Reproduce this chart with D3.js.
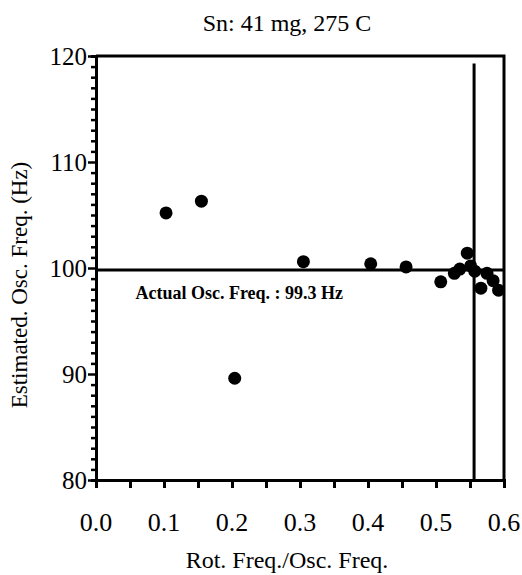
<!DOCTYPE html>
<html><head><meta charset="utf-8">
<script src="https://cdn.jsdelivr.net/npm/d3@7"></script>
<style>body{margin:0;background:#fff}svg{display:block}text{font-family:"Liberation Serif","Times New Roman",serif;fill:#000}</style>
</head><body><svg id="c" width="522" height="575"></svg>
<script>
const ratio = [0.103,0.155,0.204,0.305,0.404,0.456,0.507,0.527,0.535,0.546,0.551,0.557,0.566,0.575,0.584,0.592];
const estFreq = [105.2,106.3,89.6,100.6,100.4,100.1,98.7,99.5,99.9,101.4,100.2,99.7,98.1,99.5,98.8,97.9];
const xTicks = [0.0,0.1,0.2,0.3,0.4,0.5,0.6];
const yTicks = [80,90,100,110,120];
const actualLine = 99.8;
const actualLabel = "Actual Osc. Freq. : 99.3 Hz";
const limitRatio = 0.556;
const title = "Sn: 41 mg, 275 C";
const xTitle = "Rot. Freq./Osc. Freq.";
const yTitle = "Estimated. Osc. Freq. (Hz)";

const svg = d3.select("#c");
const L=96,R=504,T=56,B=480;
const x = d3.scaleLinear().domain([0,0.6]).range([L,R]);
const y = d3.scaleLinear().domain([80,120]).range([B,T]);

// frame top/right
svg.append("path").attr("d",`M${L},${T}H${R}V${B}`).attr("fill","none").attr("stroke","#000").attr("stroke-width",3);

// x axis
const xa = svg.append("g").attr("transform",`translate(0,${B})`)
  .call(d3.axisBottom(x).tickValues(d3.range(0,0.601,0.05)).tickSize(8).tickFormat(""));
xa.select(".domain").attr("stroke-width",3);
xa.selectAll(".tick line").attr("stroke-width",3);
svg.append("g").selectAll("text").data(xTicks).join("text")
  .attr("x",d=>x(d)).attr("y",B+51).attr("text-anchor","middle").attr("font-size",26)
  .text(d=>d.toFixed(1));

// y axis
const ya = svg.append("g").attr("transform",`translate(${L},0)`)
  .call(d3.axisLeft(y).tickValues(d3.range(80,120.01,1)).tickSize(5).tickFormat(""));
ya.select(".domain").attr("stroke-width",3);
ya.selectAll(".tick line").attr("stroke-width",2.5).attr("x2",d=>d%10===0?-8:-5);
svg.append("g").selectAll("text").data(yTicks).join("text")
  .attr("x",L-9).attr("y",d=>y(d)).attr("dy","0.35em").attr("text-anchor","end").attr("font-size",25)
  .text(d=>d);

// reference lines
svg.append("line").attr("x1",L).attr("x2",R).attr("y1",y(actualLine)).attr("y2",y(actualLine))
  .attr("stroke","#000").attr("stroke-width",3);
svg.append("line").attr("x1",x(limitRatio)).attr("x2",x(limitRatio)).attr("y1",y(119.3)).attr("y2",B)
  .attr("stroke","#000").attr("stroke-width",3);
svg.append("text").attr("x",x(0.058)).attr("y",y(97.1)).attr("font-size",18).attr("font-weight","bold").text(actualLabel);

// points
svg.append("g").selectAll("circle").data(ratio).join("circle")
  .attr("cx",d=>x(d)).attr("cy",(d,i)=>y(estFreq[i])).attr("r",6.5).attr("fill","#000");

// titles
svg.append("text").attr("x",287).attr("y",31).attr("text-anchor","middle").attr("font-size",24).text(title);
svg.append("text").attr("x",287).attr("y",568).attr("text-anchor","middle").attr("font-size",24).text(xTitle);
svg.append("text").attr("transform","translate(27,285) rotate(-90)").attr("text-anchor","middle").attr("font-size",23).text(yTitle);
</script></body></html>
